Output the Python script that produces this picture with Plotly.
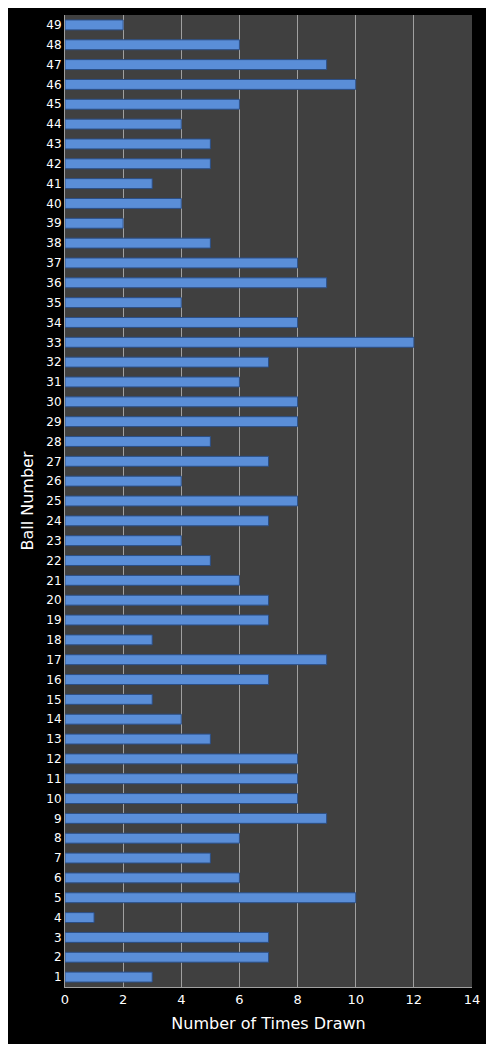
import plotly.graph_objects as go

balls = list(range(1, 50))
times_drawn = [3, 7, 7, 1, 10, 6, 5, 6, 9, 8, 8, 8, 5, 4, 3, 7, 9, 3, 7, 7,
               6, 5, 4, 7, 8, 4, 7, 5, 8, 8, 6, 7, 12, 8, 4, 9, 8, 5, 2, 4,
               3, 5, 5, 4, 6, 10, 9, 6, 2]
x_ticks = [0, 2, 4, 6, 8, 10, 12, 14]

fig = go.Figure(go.Bar(
    x=times_drawn, y=balls, orientation="h", width=0.5,
    marker=dict(color="#5a8ed8", line=dict(color="#2c4f86", width=1)),
))
fig.update_layout(
    width=478, height=1036, paper_bgcolor="black", plot_bgcolor="#404040",
    margin=dict(l=57, r=14, t=7, b=57), showlegend=False,
    font=dict(family="DejaVu Sans", color="white", size=12),
)
fig.update_xaxes(range=[0, 14], tickvals=x_ticks, showgrid=True, gridcolor="#a0a0a0",
                 gridwidth=1, zeroline=False, showline=True, linecolor="#a0a0a0",
                 ticks="", tickfont=dict(size=13),
                 title=dict(text="Number of Times Drawn", font=dict(size=16), standoff=12))
fig.update_yaxes(range=[0.5, 49.5], tickvals=balls, showgrid=False, zeroline=False,
                 showline=True, linecolor="#a0a0a0", ticks="", tickfont=dict(size=12),
                 title=dict(text="Ball Number", font=dict(size=16), standoff=8))
fig.write_html("out.html")
